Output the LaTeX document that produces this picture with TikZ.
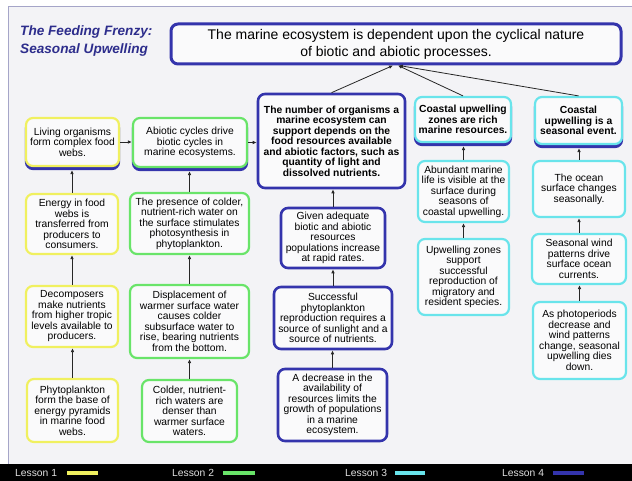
\documentclass[tikz,border=0pt]{standalone}
\usepackage{fontspec}
\setmainfont{Liberation Sans}
\usetikzlibrary{arrows.meta,calc}
\definecolor{lyellow}{RGB}{240,240,95}
\definecolor{lgreen}{RGB}{105,228,105}
\definecolor{lcyan}{RGB}{105,228,235}
\definecolor{lblue}{RGB}{52,52,172}
\definecolor{bgc}{RGB}{243,243,246}
\definecolor{boxfill}{RGB}{250,250,251}
\definecolor{framec}{RGB}{165,165,200}
\definecolor{titlec}{RGB}{45,45,140}
\begin{document}
\begin{tikzpicture}[x=1pt,y=-1pt,
  box/.style={draw, rounded corners=7pt, line width=2.2pt, fill=boxfill,
    align=center, inner sep=0pt,
    font=\fontsize{10.3}{10.5}\selectfont},
  boldbox/.style={box, font=\fontsize{10.3}{10.5}\selectfont\bfseries},
  yb/.style={draw=lyellow},
  gb/.style={draw=lgreen},
  cb/.style={draw=lcyan},
  bb/.style={draw=lblue, line width=2.6pt},
  stackshadow/.style={draw=lblue, fill=lblue, rounded corners=7pt, line width=2.2pt, inner sep=0pt},
  arr/.style={-{Latex[length=4pt,width=3.6pt]}, line width=0.8pt, draw=black!85},
  legtext/.style={text=white!88!black, font=\fontsize{10.3}{11}\selectfont, inner sep=0pt}
]
\useasboundingbox (0,0) rectangle (632,481);
\fill[white] (0,0) rectangle (632,481);
\filldraw[fill=bgc, draw=framec, line width=1pt] (8,7) rectangle (640,470);

% title
\node[anchor=north west, align=left, text=titlec, inner sep=0pt,
  font=\fontsize{13.6}{18}\selectfont\bfseries\itshape] (title) at (20,25)
  {The Feeding Frenzy:\\Seasonal Upwelling};

% top box
\node[box, bb, line width=3pt, minimum width=450pt, minimum height=40pt,
  font=\fontsize{14}{17}\selectfont] (top) at (396,44)
  {The marine ecosystem is dependent upon the cyclical nature\\of biotic and abiotic processes.};

% blue stacked edges under the linked boxes (drawn first, boxes cover them)
\node[stackshadow, minimum width=93pt, minimum height=48pt] (a1s) at (72.5,145) {};
\node[stackshadow, minimum width=114pt, minimum height=49pt] (b1s) at (190,145.5) {};
\node[stackshadow, minimum width=96pt, minimum height=45pt] (d1s) at (463,122.5) {};
\node[stackshadow, minimum width=87pt, minimum height=47pt] (e1s) at (578.5,123.5) {};

% column A (lesson 1)
\node[box, yb, minimum width=93pt, minimum height=48pt] (a1) at (72.5,142)
  {Living organisms\\form complex food\\webs.};
\node[box, yb, minimum width=92pt, minimum height=60pt] (a2) at (72,224)
  {Energy in food\\webs is\\transferred from\\producers to\\consumers.};
\node[box, yb, minimum width=92pt, minimum height=61pt] (a3) at (72,316.5)
  {Decomposers\\make nutrients\\from higher tropic\\levels available to\\producers.};
\node[box, yb, minimum width=91pt, minimum height=63pt] (a4) at (72.5,410.5)
  {Phytoplankton\\form the base of\\energy pyramids\\in marine food\\webs.};

% column B (lesson 2)
\node[box, gb, minimum width=114pt, minimum height=49pt] (b1) at (190,142.5)
  {Abiotic cycles drive\\biotic cycles in\\marine ecosystems.};
\node[box, gb, minimum width=119pt, minimum height=61pt] (b2) at (189.5,223.5)
  {The presence of colder,\\nutrient-rich water on\\the surface stimulates\\photosynthesis in\\phytoplankton.};
\node[box, gb, minimum width=119pt, minimum height=73pt] (b3) at (189.5,321.5)
  {Displacement of\\warmer surface water\\causes colder\\subsurface water to\\rise, bearing nutrients\\from the bottom.};
\node[box, gb, minimum width=95pt, minimum height=62pt] (b4) at (189.5,411)
  {Colder, nutrient-\\rich waters are\\denser than\\warmer surface\\waters.};

% column C (lesson 4 blue)
\node[boldbox, bb, minimum width=147pt, minimum height=94pt] (c1) at (331.5,141)
  {The number of organisms a\\marine ecosystem can\\support depends on the\\food resources available\\and abiotic factors, such as\\quantity of light and\\dissolved nutrients.};
\node[box, bb, minimum width=104pt, minimum height=60pt] (c2) at (333,238)
  {Given adequate\\biotic and abiotic\\resources\\populations increase\\at rapid rates.};
\node[box, bb, minimum width=118pt, minimum height=62pt] (c3) at (333,318)
  {Successful\\phytoplankton\\reproduction requires a\\source of sunlight and a\\source of nutrients.};
\node[box, bb, minimum width=109pt, minimum height=72pt] (c4) at (332.5,405)
  {A decrease in the\\availability of\\resources limits the\\growth of populations\\in a marine\\ecosystem.};

% column D (lesson 3 cyan)
\node[boldbox, cb, minimum width=96pt, minimum height=45pt] (d1) at (463,119.5)
  {Coastal upwelling\\zones are rich\\marine resources.};
\node[box, cb, minimum width=91pt, minimum height=61pt] (d2) at (463.5,191.5)
  {Abundant marine\\life is visible at the\\surface during\\seasons of\\coastal upwelling.};
\node[box, cb, minimum width=91pt, minimum height=76pt] (d3) at (463.5,277)
  {Upwelling zones\\support\\successful\\reproduction of\\migratory and\\resident species.};

% column E (lesson 3 cyan)
\node[boldbox, cb, minimum width=87pt, minimum height=47pt] (e1) at (578.5,120.5)
  {Coastal\\upwelling is a\\seasonal event.};
\node[box, cb, minimum width=92pt, minimum height=56pt] (e2) at (579,189)
  {The ocean\\surface changes\\seasonally.};
\node[box, cb, minimum width=94pt, minimum height=50pt] (e3) at (579,259)
  {Seasonal wind\\patterns drive\\surface ocean\\currents.};
\node[box, cb, minimum width=93pt, minimum height=77pt] (e4) at (579.5,340.5)
  {As photoperiods\\decrease and\\wind patterns\\change, seasonal\\upwelling dies\\down.};

% vertical connectors
\foreach \lo/\up in {a2/a1s,a3/a2,a4/a3,b2/b1s,b3/b2,b4/b3,c2/c1,c3/c2,c4/c3,d2/d1s,d3/d2,e2/e1s,e3/e2,e4/e3}
  \draw[arr] (\lo.north) -- (\lo.north |- \up.south);
% horizontal connectors
\draw[arr] (a1.east) -- (a1.east -| b1.west);
\draw[arr] (b1.east) -- (b1.east -| c1.west);
% connectors to top box
\coordinate (t1) at ($(top.south)+(-3,0)$);
\coordinate (t2) at ($(top.south)+(2,0)$);
\coordinate (t3) at ($(top.south)+(3,0)$);
\draw[arr] (c1.north) -- (t1);
\draw[arr] (d1.north) -- (t2);
\draw[arr] (e1.north) -- (t3);

% legend bar
\fill[black] (0,464) rectangle (632,481);
\node[legtext, anchor=west] (l1) at (15,473) {Lesson 1};
\node[legtext, anchor=west] (l2) at (172,473) {Lesson 2};
\node[legtext, anchor=west] (l3) at (345,473) {Lesson 3};
\node[legtext, anchor=west] (l4) at (502,473) {Lesson 4};
\fill[lyellow] (67,470.5) rectangle (98,475);
\fill[lgreen] (223,470.5) rectangle (255,475);
\fill[lcyan] (395,470.5) rectangle (425,475);
\fill[lblue] (553,470.5) rectangle (584,475);
\end{tikzpicture}
\end{document}
